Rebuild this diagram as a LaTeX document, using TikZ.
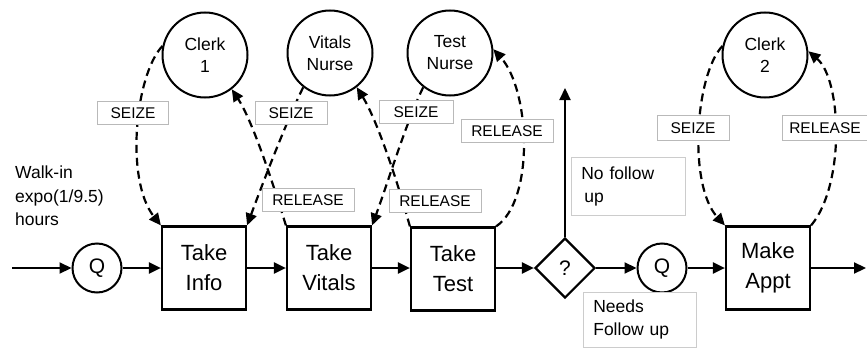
\documentclass[tikz,border=0pt]{standalone}
\usepackage{fontspec}
\setmainfont{Liberation Sans}
\usetikzlibrary{arrows.meta,shapes.geometric}
\begin{document}
\begin{tikzpicture}[x=1pt,y=-1pt,
  proc/.style={draw, line width=2.2pt, minimum width=84pt, minimum height=83pt, font=\fontsize{22}{30}\selectfont, align=center, inner sep=0pt},
  res/.style={circle, draw, line width=2pt, minimum size=85pt, font=\fontsize{17.5}{22}\selectfont, align=center, inner sep=0pt},
  que/.style={circle, draw, line width=2pt, minimum size=49pt, font=\fontsize{21}{24}\selectfont, inner sep=0pt},
  lbl/.style={draw=gray!55, line width=0.6pt, fill=white, font=\fontsize{15.5}{18}\selectfont, inner sep=0pt, minimum height=23pt},
  note/.style={draw=gray!40, line width=0.6pt, fill=white, font=\fontsize{17.5}{23}\selectfont, align=left, inner sep=0pt, anchor=north west},
  flow/.style={line width=2.2pt, -{Triangle[length=12pt,width=11pt]}},
  dflow/.style={line width=2.2pt, dash pattern=on 8pt off 5pt, -{Triangle[length=12pt,width=11pt]}},
]
\useasboundingbox (0,0) rectangle (867,348);

% main flow nodes
\node[que] (q1) at (97,268) {Q};
\node[proc] (info) at (204,268) {Take\\Info};
\node[proc] (vitals) at (329,268) {Take\\Vitals};
\node[proc] (test) at (453,269) {Take\\Test};
\node[diamond, draw, line width=2.2pt, minimum width=60pt, minimum height=60pt, inner sep=0pt, font=\fontsize{21}{24}\selectfont] (dec) at (565,268) {?};
\node[que] (q2) at (662,268) {Q};
\node[proc] (appt) at (768,268) {Make\\Appt};

% resources
\node[res] (c1) at (205,55) {Clerk\\1};
\node[res] (vn) at (330,53) {Vitals\\Nurse};
\node[res] (tn) at (450,53) {Test\\Nurse};
\node[res] (c2) at (765,55) {Clerk\\2};

\coordinate (in) at (12,268);
\coordinate (out) at (866,268);
\coordinate (up) at (565,88);

% solid flow
\draw[flow] (in) -- (q1);
\draw[flow] (q1) -- (info);
\draw[flow] (info) -- (vitals);
\draw[flow] (vitals) -- (test.west |- vitals);
\draw[flow] (test.east |- dec) -- (dec);
\draw[flow] (dec.north) -- (up);
\draw[flow] (dec) -- (q2);
\draw[flow] (q2) -- (appt);
\draw[flow] (appt) -- (out);

% seize / release
\draw[dflow] (c1.168) .. controls (135,75) and (125,180) .. (info.north west);
\draw[dflow] (vitals.north west) .. controls (272,180) and (252,120) .. (c1.-52);
\draw[dflow] (vn.232) .. controls (287,120) and (262,185) .. (info.north east);
\draw[dflow] (test.north west) .. controls (397,180) and (377,120) .. (vn.-52);
\draw[dflow] (tn.232) .. controls (407,120) and (387,185) .. (vitals.north east);
\draw[dflow] (test.north east) .. controls (535,200) and (530,90) .. (tn.5);
\draw[dflow] (c2.168) .. controls (695,75) and (688,185) .. (appt.north west);
\draw[dflow] (appt.north east) .. controls (845,185) and (842,80) .. (c2.5);

% labels
\node[lbl, minimum width=71pt] (s1) at (133,113) {SEIZE};
\node[lbl, minimum width=72pt] (s2) at (291,113) {SEIZE};
\node[lbl, minimum width=74pt] (s3) at (416,112) {SEIZE};
\node[lbl, minimum width=72pt, minimum height=25pt] (s4) at (693,128) {SEIZE};
\node[lbl, minimum width=92pt] (r1) at (308,200) {RELEASE};
\node[lbl, minimum width=92pt] (r2) at (435,201) {RELEASE};
\node[lbl, minimum width=92pt] (r3) at (507,131) {RELEASE};
\node[lbl, minimum width=85pt, minimum height=25pt] (r4) at (825,128) {RELEASE};

% notes
\node[note, minimum width=106pt, minimum height=58pt, text width=94pt, inner xsep=10pt] (nf) at (571,157) {No follow\\\hspace*{3pt}up};
\node[note, minimum width=105pt, minimum height=55pt, text width=93pt, inner xsep=10pt] (ff) at (583,292) {Needs\\Follow up};
\node[font=\fontsize{17.5}{23.5}\selectfont, align=left, anchor=north west, inner sep=0pt] (walk) at (15,166) {Walk-in\\expo(1/9.5)\\hours};
\end{tikzpicture}
\end{document}
